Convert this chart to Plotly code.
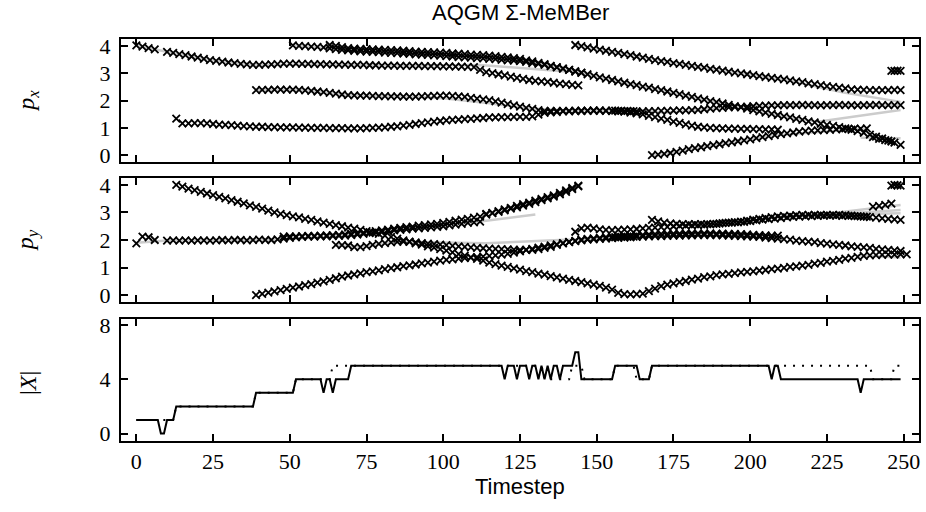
import plotly.graph_objects as go

# ---------------- data ----------------
timestep_ticks = [0, 25, 50, 75, 100, 125, 150, 175, 200, 225, 250]

# estimated x-positions (top panel); each track: start timestep, step, values
px_A1_start, px_A1_step = 0, 2
px_A1 = [4.02, 3.97, 3.92, 3.87]
px_A2_start, px_A2_step = 10, 2
px_A2 = [3.78, 3.74, 3.70, 3.66, 3.61, 3.57, 3.52, 3.48, 3.45, 3.42, 3.39, 3.37, 3.34, 3.32, 3.30, 3.30,
         3.31, 3.32, 3.33, 3.35, 3.35, 3.35, 3.34, 3.34, 3.33, 3.33, 3.32, 3.32, 3.31, 3.31, 3.30, 3.30,
         3.30, 3.29, 3.29, 3.28, 3.28, 3.28, 3.27, 3.27, 3.27, 3.27, 3.26, 3.26, 3.26, 3.25, 3.25, 3.24,
         3.24, 3.23, 3.22, 3.12, 3.04, 3.00, 2.96, 2.92, 2.87, 2.83, 2.79, 2.75, 2.72, 2.70, 2.68, 2.65,
         2.62, 2.60, 2.57, 2.55]
px_T2_start, px_T2_step = 51, 2
px_T2 = [4.02, 4.00, 3.99, 3.97, 3.96, 3.94, 3.91, 3.88, 3.85, 3.83, 3.82, 3.80, 3.79, 3.78, 3.77, 3.75,
         3.74, 3.73, 3.72, 3.71, 3.69, 3.68, 3.67, 3.65, 3.64, 3.62, 3.61, 3.59, 3.58, 3.57, 3.55, 3.54,
         3.52, 3.51, 3.49, 3.47, 3.46, 3.44, 3.41, 3.37, 3.34, 3.30, 3.26, 3.21, 3.17, 3.12, 3.06, 3.01,
         2.96, 2.90, 2.85, 2.80, 2.75, 2.70, 2.65, 2.60, 2.56, 2.51, 2.47, 2.42, 2.38, 2.33, 2.28, 2.23,
         2.18, 2.13, 2.08, 2.03, 1.98, 1.94, 1.89, 1.84, 1.79, 1.75, 1.70, 1.65, 1.60, 1.56, 1.51, 1.47,
         1.42, 1.38, 1.33, 1.29, 1.24, 1.20, 1.15, 1.11, 1.07, 1.03, 0.98, 0.93, 0.88, 0.82, 0.75, 0.68,
         0.61, 0.53, 0.46, 0.38]
px_T3_start, px_T3_step = 63, 2
px_T3 = [4.03, 4.00, 3.95, 3.92, 3.90, 3.89, 3.88, 3.87, 3.86, 3.85, 3.84, 3.83, 3.82, 3.81, 3.79, 3.78,
         3.77, 3.76, 3.75, 3.74, 3.72, 3.71, 3.70, 3.68, 3.67, 3.66, 3.64, 3.62, 3.60, 3.58, 3.55, 3.52,
         3.47, 3.43, 3.38, 3.33, 3.27, 3.22, 3.17, 3.12, 3.07, 3.02]
px_T4_start, px_T4_step = 39, 2
px_T4 = [2.38, 2.39, 2.39, 2.40, 2.40, 2.40, 2.40, 2.39, 2.37, 2.35, 2.33, 2.31, 2.28, 2.25, 2.22, 2.20,
         2.19, 2.18, 2.18, 2.17, 2.16, 2.16, 2.15, 2.15, 2.14, 2.14, 2.14, 2.15, 2.16, 2.17, 2.18, 2.18,
         2.17, 2.15, 2.13, 2.10, 2.07, 2.04, 2.01, 1.97, 1.92, 1.87, 1.82, 1.78, 1.73, 1.69, 1.65, 1.62,
         1.62, 1.62, 1.62, 1.62, 1.63, 1.63, 1.63, 1.64, 1.64, 1.63, 1.63, 1.62, 1.61, 1.61, 1.60, 1.60,
         1.61, 1.61, 1.62, 1.62, 1.63, 1.64, 1.64, 1.65, 1.66, 1.68, 1.70, 1.72, 1.73, 1.75, 1.76, 1.77,
         1.78, 1.79, 1.80, 1.81, 1.82, 1.82, 1.83, 1.83, 1.83, 1.84, 1.83, 1.83, 1.82, 1.83, 1.83, 1.84,
         1.83, 1.83, 1.82, 1.83, 1.83, 1.84, 1.83, 1.83, 1.83, 1.83]
px_T5_start, px_T5_step = 13, 2
px_T5 = [1.34, 1.16, 1.16, 1.17, 1.17, 1.16, 1.14, 1.12, 1.11, 1.10, 1.08, 1.06, 1.05, 1.04, 1.04, 1.03,
         1.03, 1.02, 1.02, 1.02, 1.01, 1.01, 1.00, 1.00, 1.00, 0.99, 0.99, 0.99, 0.98, 0.98, 0.98, 0.99,
         1.00, 1.01, 1.02, 1.04, 1.05, 1.08, 1.11, 1.14, 1.17, 1.20, 1.23, 1.25, 1.27, 1.29, 1.30, 1.32,
         1.33, 1.35, 1.36, 1.38, 1.38, 1.39, 1.39, 1.40, 1.40, 1.40, 1.42, 1.48, 1.55, 1.57, 1.58, 1.60,
         1.60, 1.61, 1.61, 1.62, 1.62, 1.62, 1.62, 1.61, 1.60, 1.59, 1.56, 1.53, 1.49, 1.44, 1.39, 1.34,
         1.29, 1.23, 1.18, 1.13, 1.08, 1.04, 1.02, 1.00, 0.99, 0.98, 0.97, 0.97, 0.96, 0.96, 0.95, 0.95,
         0.94, 0.94, 0.93]
px_Ta_start, px_Ta_step = 143, 2
px_Ta = [4.03, 3.99, 3.94, 3.90, 3.86, 3.82, 3.78, 3.74, 3.70, 3.66, 3.61, 3.57, 3.52, 3.48, 3.44, 3.41,
         3.37, 3.34, 3.30, 3.27, 3.23, 3.20, 3.16, 3.13, 3.09, 3.06, 3.02, 2.99, 2.96, 2.93, 2.89, 2.86,
         2.83, 2.80, 2.77, 2.74, 2.70, 2.67, 2.63, 2.60, 2.56, 2.53, 2.50, 2.47, 2.44, 2.41, 2.40, 2.39,
         2.38, 2.38, 2.38, 2.38, 2.39, 2.38]
px_Te_start, px_Te_step = 168, 2
px_Te = [0.00, 0.02, 0.05, 0.08, 0.12, 0.17, 0.22, 0.26, 0.29, 0.33, 0.37, 0.40, 0.44, 0.47, 0.51, 0.54,
         0.58, 0.62, 0.66, 0.70, 0.73, 0.77, 0.80, 0.83, 0.86, 0.88, 0.90, 0.91, 0.92, 0.93, 0.94, 0.95,
         0.96, 0.97, 0.97, 0.98, 0.66, 0.60, 0.55, 0.50]
px_Sa_start, px_Sa_step = 246, 1
px_Sa = [3.08, 3.08, 3.09, 3.08]
px_S3_start, px_S3_step = 156, 2
px_S3 = [1.63, 1.62, 1.62, 1.61]

# estimated y-positions (middle panel)
py_L2a_start, py_L2a_step = 0, 2
py_L2a = [1.88, 2.12, 2.10, 2.00]
py_L2b_start, py_L2b_step = 10, 2
py_L2b = [1.98, 1.99, 1.98, 1.99, 1.98, 1.99, 1.99, 1.98, 1.99, 2.00, 1.99, 2.00, 2.00, 1.99, 2.00, 2.01,
          2.00, 2.00, 2.02, 2.05, 2.08, 2.10, 2.11, 2.12, 2.12, 2.13, 2.13, 2.14, 2.15, 2.16, 2.18, 2.20,
          2.22, 2.25, 2.27, 2.29, 2.32, 2.35, 2.37, 2.39, 2.41, 2.42, 2.44, 2.46, 2.48, 2.50, 2.53, 2.56,
          2.59, 2.62, 2.64, 2.67, 2.95, 2.99, 3.02, 3.08, 3.14, 3.19, 3.25, 3.31, 3.38, 3.45, 3.51, 3.58,
          3.66, 3.75, 3.85, 3.95]
py_L1_start, py_L1_step = 48, 2
py_L1 = [2.12, 2.13, 2.13, 2.14, 2.15, 2.15, 2.16, 2.17, 2.18, 2.19, 2.20, 2.22, 2.24, 2.27, 2.29, 2.32,
         2.35, 2.38, 2.41, 2.44, 2.47, 2.49, 2.52, 2.54, 2.57, 2.59, 2.62, 2.66, 2.70, 2.74, 2.77, 2.81,
         2.85, 2.92, 2.98, 3.05, 3.11, 3.17, 3.24, 3.30, 3.36, 3.43, 3.49, 3.56, 3.62, 3.71, 3.80, 3.89,
         3.98]
py_L3_start, py_L3_step = 13, 2
py_L3 = [4.00, 3.94, 3.87, 3.81, 3.75, 3.69, 3.63, 3.57, 3.51, 3.45, 3.39, 3.33, 3.26, 3.20, 3.14, 3.07,
         3.00, 2.95, 2.90, 2.86, 2.82, 2.77, 2.73, 2.68, 2.63, 2.59, 2.54, 2.50, 2.45, 2.41, 2.37, 2.32,
         2.27, 2.22, 2.16, 2.11, 2.05, 1.99, 1.94, 1.88, 1.83, 1.77, 1.72, 1.67, 1.61, 1.55, 1.49, 1.43,
         1.37, 1.31, 1.25, 1.18, 1.12, 1.07, 1.02, 0.97, 0.92, 0.87, 0.83, 0.78, 0.74, 0.69, 0.64, 0.60,
         0.55, 0.51, 0.47, 0.42, 0.38, 0.33, 0.27, 0.20, 0.08, 0.03, 0.02, 0.03, 0.05, 0.14, 0.23, 0.32,
         0.38, 0.42, 0.47, 0.51, 0.56, 0.60, 0.65, 0.68, 0.72, 0.75, 0.77, 0.80, 0.82, 0.84, 0.86, 0.89,
         0.91, 0.94, 0.96, 0.99, 1.02, 1.04, 1.07, 1.10, 1.14, 1.17, 1.21, 1.24, 1.28, 1.32, 1.35, 1.39,
         1.42, 1.44, 1.45, 1.46, 1.47, 1.47, 1.48, 1.48]
py_L4_start, py_L4_step = 39, 2
py_L4 = [0.00, 0.04, 0.09, 0.13, 0.18, 0.22, 0.27, 0.31, 0.36, 0.40, 0.45, 0.50, 0.55, 0.61, 0.67, 0.71,
         0.75, 0.79, 0.83, 0.86, 0.90, 0.94, 0.98, 1.01, 1.05, 1.08, 1.11, 1.15, 1.18, 1.21, 1.25, 1.28,
         1.30, 1.32, 1.34, 1.36, 1.38, 1.40, 1.42, 1.44, 1.47, 1.50, 1.54, 1.59, 1.64, 1.68, 1.72, 1.76,
         1.80, 1.84, 1.88, 1.92, 1.96, 1.99, 2.01, 2.02, 2.04, 2.05, 2.07, 2.08, 2.09, 2.10, 2.11, 2.12,
         2.13, 2.14, 2.14, 2.15, 2.16, 2.16, 2.17, 2.17, 2.18, 2.18, 2.18, 2.18, 2.17, 2.16, 2.15, 2.14,
         2.13, 2.12, 2.11, 2.09, 2.07, 2.05, 2.03, 2.01, 1.98, 1.96, 1.94, 1.92, 1.89, 1.87, 1.84, 1.82,
         1.80, 1.77, 1.75, 1.73, 1.71, 1.68, 1.66, 1.64, 1.62, 1.60]
py_L5_start, py_L5_step = 65, 2
py_L5 = [1.82, 1.81, 1.80, 1.74, 1.74, 1.78, 1.82, 1.86, 1.89, 1.91, 1.93, 1.94, 1.93, 1.91, 1.89, 1.87,
         1.85, 1.83, 1.81, 1.79, 1.77, 1.75, 1.73, 1.71, 1.70, 1.69, 1.68, 1.67, 1.66, 1.65, 1.64, 1.64,
         1.64, 1.67, 1.71, 1.75, 1.82, 1.89, 1.93, 1.97, 2.01, 2.04, 2.06, 2.08, 2.10, 2.12, 2.14, 2.15,
         2.16, 2.18, 2.19, 2.20, 2.21, 2.22, 2.22, 2.23, 2.23, 2.24, 2.24, 2.24, 2.24, 2.24, 2.23, 2.23,
         2.22, 2.22, 2.21, 2.20, 2.19, 2.18, 2.17, 2.16, 2.16]
py_L6_start, py_L6_step = 143, 2
py_L6 = [2.30, 2.42, 2.45, 2.42, 2.39, 2.37, 2.36, 2.37, 2.38, 2.39, 2.40, 2.42, 2.44, 2.45, 2.47, 2.48,
         2.50, 2.51, 2.52, 2.53, 2.54, 2.55, 2.57, 2.59, 2.61, 2.63, 2.65, 2.67, 2.70, 2.74, 2.77, 2.80,
         2.83, 2.86, 2.88, 2.89, 2.90, 2.91, 2.91, 2.91, 2.91, 2.91, 2.91, 2.91, 2.90, 2.89, 2.87, 2.85,
         2.83, 2.81, 2.79, 2.77, 2.75, 2.73]
py_L7_start, py_L7_step = 168, 2
py_L7 = [2.73, 2.68, 2.63, 2.60, 2.59, 2.58, 2.58, 2.58, 2.58, 2.58, 2.59, 2.60, 2.62, 2.63, 2.64, 2.66,
         2.69, 2.71, 2.74, 2.76, 2.78, 2.80, 2.82, 2.84, 2.85, 2.86, 2.87, 2.88, 2.89, 2.89, 2.89, 2.88,
         2.88, 2.87, 2.86, 2.85, 3.21, 3.24, 3.28, 3.32]
py_Sa_start, py_Sa_step = 246, 1
py_Sa = [3.98, 4.00, 3.99, 3.98]
py_S3_start, py_S3_step = 156, 2
py_S3 = [2.10, 2.11, 2.11, 2.12]

gt_px_A_t = [0, 7, 10, 24, 39, 62, 90, 112, 141]
gt_px_A_v = [4.00, 3.86, 3.78, 3.48, 3.30, 3.32, 3.28, 3.30, 3.05]
gt_px_T2_t = [51, 70, 100, 125, 141, 155, 182, 196, 212, 222, 249]
gt_px_T2_v = [4.02, 3.84, 3.65, 3.45, 3.12, 2.75, 2.10, 1.77, 1.40, 1.22, 1.65]
gt_px_T3_t = [64, 70, 115, 125, 135, 145]
gt_px_T3_v = [4.03, 3.90, 3.66, 3.52, 3.30, 3.05]
gt_px_T4_t = [39, 52, 69, 91, 100, 115, 128, 140, 157, 164, 172, 183, 196, 212, 249]
gt_px_T4_v = [2.38, 2.40, 2.20, 2.14, 2.08, 1.90, 1.71, 1.63, 1.65, 1.65, 1.55, 1.65, 1.77, 1.83, 1.83]
gt_px_Ta_t = [143, 160, 183, 212, 230, 249]
gt_px_Ta_v = [4.03, 3.68, 3.23, 2.75, 2.30, 1.95]
gt_px_Te_t = [168, 180, 208, 238]
gt_px_Te_v = [0.00, 0.22, 0.73, 0.98]
gt_px_X_t = [236, 249]
gt_px_X_v = [0.64, 0.62]

gt_py_A_t = [0, 10, 45, 67, 86, 112, 130]
gt_py_A_v = [1.90, 1.98, 2.00, 2.15, 2.37, 2.67, 2.93]
gt_py_L5_t = [65, 73, 86, 100, 114, 138, 146, 157, 186, 209]
gt_py_L5_v = [1.82, 1.76, 1.94, 1.90, 1.88, 2.00, 2.03, 2.14, 2.24, 2.16]
gt_py_U1_t = [205, 225, 249]
gt_py_U1_v = [2.80, 2.95, 3.27]
gt_py_U2_t = [210, 230, 249]
gt_py_U2_v = [2.85, 2.95, 3.09]
gt_py_U3_t = [215, 249]
gt_py_U3_v = [2.90, 2.97]
gt_py_Lo_t = [235, 249]
gt_py_Lo_v = [1.45, 1.36]

# cardinality: estimated (solid) and true (dotted), t = 0..249
card_est = ([1] * 8 + [0] * 2 + [1] * 3 + [2] * 26 + [3] * 13 + [4] * 9 + [3] + [4] * 2 + [3] + [4] * 5 +
            [5] * 50 + [4] + [5] * 3 + [4] + [5] * 3 + [4] + [5] * 2 + [4] + [5] + [4] + [5] + [4] +
            [5] * 2 + [4] + [5] * 4 + [6] * 2 + [4] * 11 + [5] * 8 + [4] * 4 + [5] * 39 + [4] + [5] * 2 +
            [4] * 26 + [3] + [4] * 13)
card_true = ([1] * 13 + [2] * 26 + [3] * 13 + [4] * 12 + [5] * 69 + [4] * 9 + [5] * 4 + [4] * 10 +
             [5] * 7 + [4] * 5 + [5] * 72 + [4] * 7 + [5] * 3)

# ---------------- figure ----------------
fig = go.Figure()
GRAY = "#cccccc"


def gt_line(t, v, xa, ya):
    fig.add_trace(go.Scatter(x=t, y=v, mode="lines", line=dict(color=GRAY, width=2.5),
                             xaxis=xa, yaxis=ya, showlegend=False, hoverinfo="skip"))


def track(t0, step, vals, xa, ya):
    fig.add_trace(go.Scatter(x=[t0 + step * i for i in range(len(vals))], y=vals, mode="markers",
                             marker=dict(symbol="x-thin", size=7.5, color="black",
                                         line=dict(width=1.8, color="black")),
                             xaxis=xa, yaxis=ya, showlegend=False, hoverinfo="skip"))


for t, v in [(gt_px_A_t, gt_px_A_v), (gt_px_T2_t, gt_px_T2_v), (gt_px_T3_t, gt_px_T3_v),
             (gt_px_T4_t, gt_px_T4_v), (gt_px_Ta_t, gt_px_Ta_v), (gt_px_Te_t, gt_px_Te_v),
             (gt_px_X_t, gt_px_X_v)]:
    gt_line(t, v, "x", "y")
for t, v in [(gt_py_A_t, gt_py_A_v), (gt_py_L5_t, gt_py_L5_v), (gt_py_U1_t, gt_py_U1_v),
             (gt_py_U2_t, gt_py_U2_v), (gt_py_U3_t, gt_py_U3_v), (gt_py_Lo_t, gt_py_Lo_v)]:
    gt_line(t, v, "x2", "y2")

for s, st, v in [(px_A1_start, px_A1_step, px_A1), (px_A2_start, px_A2_step, px_A2),
                 (px_T2_start, px_T2_step, px_T2), (px_T3_start, px_T3_step, px_T3),
                 (px_T4_start, px_T4_step, px_T4), (px_T5_start, px_T5_step, px_T5),
                 (px_Ta_start, px_Ta_step, px_Ta), (px_Te_start, px_Te_step, px_Te),
                 (px_Sa_start, px_Sa_step, px_Sa), (px_S3_start, px_S3_step, px_S3)]:
    track(s, st, v, "x", "y")
for s, st, v in [(py_L2a_start, py_L2a_step, py_L2a), (py_L2b_start, py_L2b_step, py_L2b),
                 (py_L1_start, py_L1_step, py_L1), (py_L3_start, py_L3_step, py_L3),
                 (py_L4_start, py_L4_step, py_L4), (py_L5_start, py_L5_step, py_L5),
                 (py_L6_start, py_L6_step, py_L6), (py_L7_start, py_L7_step, py_L7),
                 (py_Sa_start, py_Sa_step, py_Sa), (py_S3_start, py_S3_step, py_S3)]:
    track(s, st, v, "x2", "y2")

steps = list(range(len(card_est)))
fig.add_trace(go.Scatter(x=steps, y=card_true, mode="lines",
                         line=dict(color="black", width=2, dash="2px,7px"),
                         xaxis="x3", yaxis="y3", showlegend=False, hoverinfo="skip"))
fig.add_trace(go.Scatter(x=steps, y=card_est, mode="lines", line=dict(color="black", width=2),
                         xaxis="x3", yaxis="y3", showlegend=False, hoverinfo="skip"))

TICKFONT = dict(family="Liberation Serif", size=22, color="black")
common_x = dict(range=[-5, 255], tickvals=timestep_ticks, ticks="inside", ticklen=7, tickwidth=1.5,
                tickcolor="black", showline=True, linecolor="black", linewidth=2, mirror="ticks",
                showgrid=False, zeroline=False, tickfont=TICKFONT)
common_y = dict(ticks="inside", ticklen=7, tickwidth=1.5, tickcolor="black", showline=True,
                linecolor="black", linewidth=2, mirror="ticks", showgrid=False, zeroline=False,
                tickfont=TICKFONT, ticklabelstandoff=4)

fig.update_layout(
    width=926, height=512,
    margin=dict(l=121, r=5, t=39, b=71),
    plot_bgcolor="white", paper_bgcolor="white",
    xaxis=dict(common_x, domain=[0, 1], anchor="y", showticklabels=False),
    xaxis2=dict(common_x, domain=[0, 1], anchor="y2", showticklabels=False),
    xaxis3=dict(common_x, domain=[0, 1], anchor="y3", showticklabels=True),
    yaxis=dict(common_y, domain=[0.694, 1.0], anchor="x", range=[-0.25, 4.25], tickvals=[0, 1, 2, 3, 4]),
    yaxis2=dict(common_y, domain=[0.346, 0.654], anchor="x2", range=[-0.25, 4.25], tickvals=[0, 1, 2, 3, 4]),
    yaxis3=dict(common_y, domain=[0.0, 0.3035], anchor="x3", range=[-0.55, 8.45], tickvals=[0, 4, 8]),
)

LABELFONT = dict(family="Liberation Serif", size=24, color="black")
fig.add_annotation(text="<i>p</i><sub><i>x</i></sub>", xref="paper", yref="paper", x=-0.1175, y=0.847,
                   showarrow=False, textangle=-90, font=LABELFONT, xanchor="center", yanchor="middle")
fig.add_annotation(text="<i>p</i><sub><i>y</i></sub>", xref="paper", yref="paper", x=-0.1175, y=0.5,
                   showarrow=False, textangle=-90, font=LABELFONT, xanchor="center", yanchor="middle")
fig.add_annotation(text="|<i>X</i>|", xref="paper", yref="paper", x=-0.1175, y=0.145,
                   showarrow=False, textangle=-90, font=LABELFONT, xanchor="center", yanchor="middle")
fig.add_annotation(text="AQGM Σ-MeMBer", xref="paper", yref="paper", x=0.5, y=1.067,
                   showarrow=False, font=dict(family="Liberation Sans", size=22, color="black"),
                   xanchor="center", yanchor="middle")
fig.add_annotation(text="Timestep", xref="paper", yref="paper", x=0.5, y=-0.1144,
                   showarrow=False, font=dict(family="Liberation Sans", size=22, color="black"),
                   xanchor="center", yanchor="middle")

fig.write_html("out.html")
